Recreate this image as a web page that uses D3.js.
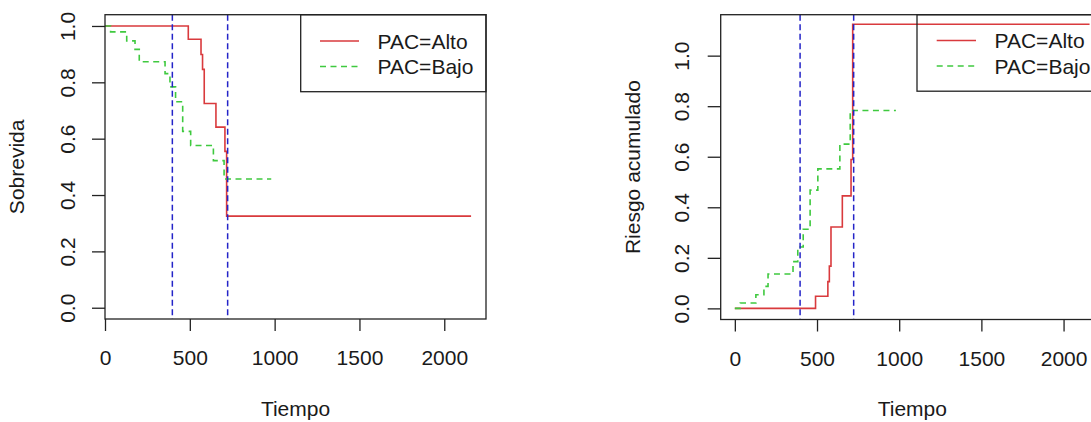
<!DOCTYPE html>
<html><head><meta charset="utf-8">
<script src="https://cdn.jsdelivr.net/npm/d3@7"></script>
<style>body{margin:0;background:#fff}svg{display:block}text{font-family:"Liberation Sans",Arial,sans-serif;fill:#1a1a1a}</style>
</head><body><svg id="c" width="1091" height="422"></svg>
<script>
// ---- data ----
const groups = ["PAC=Alto", "PAC=Bajo"];
const timeAlto = [0, 491, 566, 575, 585, 654, 707, 717, 2158];
const survAlto = [1, 0.953, 0.899, 0.846, 0.725, 0.641, 0.555, 0.325, 0.325];
const hazAlto  = [0, 0.048, 0.106, 0.167, 0.322, 0.445, 0.589, 1.124, 1.124];
const timeBajo = [0, 33, 128, 177, 202, 354, 383, 416, 458, 505, 639, 702, 980];
const survBajo = [1, 0.979, 0.947, 0.917, 0.873, 0.831, 0.784, 0.731, 0.626, 0.576, 0.522, 0.457, 0.457];
const hazBajo  = [0, 0.021, 0.054, 0.087, 0.136, 0.185, 0.243, 0.313, 0.468, 0.552, 0.650, 0.783, 0.783];
const cutoffs = [397, 723];
const xTicks = [0, 500, 1000, 1500, 2000];
const yTicks = [0, 0.2, 0.4, 0.6, 0.8, 1.0];
const xLabel = "Tiempo";
const yLabels = ["Sobrevida", "Riesgo acumulado"];

const colors = ["#d93a3d", "#3fc93f"];
const svg = d3.select("#c");
const FS = 21;

function panel(cfg) {
  const g = svg.append("g");
  const x = d3.scaleLinear().domain(cfg.xdom).range([cfg.left, cfg.right]);
  const y = d3.scaleLinear().domain(cfg.ydom).range([cfg.bottom, cfg.top]);
  const line = d3.line().x(d => x(d[0])).y(d => y(d[1])).curve(d3.curveStepAfter);

  const series = [d3.zip(cfg.t[0], cfg.v[0]), d3.zip(cfg.t[1], cfg.v[1])];
  g.append("path").datum(series[0]).attr("d", line).attr("fill", "none")
    .attr("stroke", colors[0]).attr("stroke-width", 1.6);
  g.append("path").datum(series[1]).attr("d", line).attr("fill", "none")
    .attr("stroke", colors[1]).attr("stroke-width", 1.6).attr("stroke-dasharray", "6,4.5");

  g.selectAll("line.cut").data(cutoffs).join("line").attr("class", "cut")
    .attr("x1", d => x(d)).attr("x2", d => x(d)).attr("y1", cfg.top).attr("y2", cfg.bottom)
    .attr("stroke", "#2424c8").attr("stroke-width", 1.5).attr("stroke-dasharray", "6,3.5");

  // box
  g.append("rect").attr("x", cfg.left).attr("y", cfg.top)
    .attr("width", cfg.right - cfg.left).attr("height", cfg.bottom - cfg.top)
    .attr("fill", "none").attr("stroke", "#222").attr("stroke-width", 1.3);

  // x axis
  const xa = g.append("g").attr("transform", `translate(0,${cfg.bottom})`)
    .call(d3.axisBottom(x).tickValues(xTicks).tickSize(12).tickSizeOuter(0).tickFormat(d3.format("d")));
  xa.select(".domain").remove();
  xa.selectAll(".tick line").attr("stroke", "#222").attr("stroke-width", 1.3);
  xa.selectAll(".tick text").attr("y", 0).attr("dy", 0).attr("transform", "translate(0,46)")
    .style("font-size", FS + "px").attr("fill", "#1a1a1a");

  // y axis
  const ya = g.append("g").attr("transform", `translate(${cfg.left},0)`)
    .call(d3.axisLeft(y).tickValues(yTicks).tickSize(13).tickSizeOuter(0).tickFormat(d3.format(".1f")));
  ya.select(".domain").remove();
  ya.selectAll(".tick line").attr("stroke", "#222").attr("stroke-width", 1.3);
  ya.selectAll(".tick text").attr("x", 0).attr("dy", 0)
    .attr("transform", `translate(${cfg.ytx - cfg.left},0) rotate(-90)`)
    .attr("text-anchor", "middle").attr("dy", "0.35em")
    .style("font-size", FS + "px").attr("fill", "#1a1a1a");

  // labels
  g.append("text").attr("x", (cfg.left + cfg.right) / 2).attr("y", 416)
    .attr("text-anchor", "middle").style("font-size", FS + "px").text(xLabel);
  g.append("text").attr("transform", `translate(${cfg.ylx},${(cfg.top + cfg.bottom) / 2}) rotate(-90)`)
    .attr("text-anchor", "middle").attr("dy", "0.35em").style("font-size", FS + "px").text(cfg.ylab);

  // legend
  const L = cfg.leg;
  g.append("rect").attr("x", L.x).attr("y", cfg.top).attr("width", L.w).attr("height", L.h)
    .attr("fill", "none").attr("stroke", "#222").attr("stroke-width", 1.3);
  groups.forEach((name, i) => {
    const yy = L.y0 + i * 25.5;
    g.append("line").attr("x1", L.lx1).attr("x2", L.lx2).attr("y1", yy).attr("y2", yy)
      .attr("stroke", colors[i]).attr("stroke-width", 1.6)
      .attr("stroke-dasharray", i === 1 ? "6,4.5" : null);
    g.append("text").attr("x", L.tx).attr("y", yy).attr("dy", "0.36em")
      .style("font-size", FS + "px").text(name);
  });
}

panel({
  left: 105, right: 486, top: 14.7, bottom: 319,
  xdom: [0, 2246], ydom: [-0.04, 1.04],
  t: [timeAlto, timeBajo], v: [survAlto, survBajo],
  ytx: 68, ylx: 17, ylab: yLabels[0],
  leg: {x: 300.7, w: 185.3, h: 77, y0: 41, lx1: 320, lx2: 359, tx: 377.5}
});
panel({
  left: 720.7, right: 1104, top: 14.7, bottom: 319.5,
  xdom: [-86, 2246], ydom: [-0.044, 1.162],
  t: [timeAlto, timeBajo], v: [hazAlto, hazBajo],
  ytx: 681.7, ylx: 633, ylab: yLabels[1],
  leg: {x: 917, w: 187, h: 76.5, y0: 40.5, lx1: 936.7, lx2: 976, tx: 994.5}
});
</script></body></html>
